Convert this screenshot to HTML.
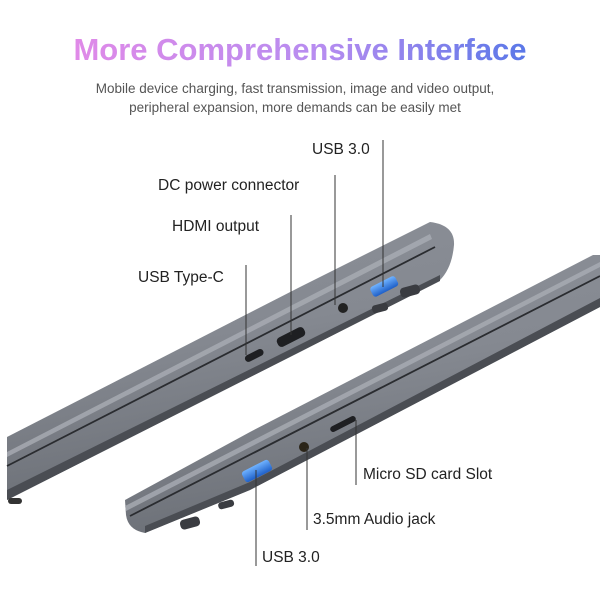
<!DOCTYPE html>
<html><head><meta charset="utf-8"><style>
html,body{margin:0;padding:0;background:#fff;width:600px;height:600px;overflow:hidden}
svg{display:block}
text{font-family:"Liberation Sans","DejaVu Sans",sans-serif}
</style></head><body>
<svg width="600" height="600" viewBox="0 0 600 600" xmlns="http://www.w3.org/2000/svg">
<defs>
<linearGradient id="tg" x1="0" x2="1" y1="0" y2="0">
<stop offset="0" stop-color="#e08ae8"/><stop offset="0.55" stop-color="#b68cf0"/><stop offset="1" stop-color="#5a78e8"/>
</linearGradient>
<linearGradient id="body" x1="0" y1="0" x2="0.3" y2="1">
<stop offset="0" stop-color="#8d9199"/><stop offset="0.5" stop-color="#858991"/><stop offset="1" stop-color="#6a6e75"/>
</linearGradient>
<linearGradient id="usb" x1="0" y1="0" x2="0" y2="1"><stop offset="0" stop-color="#6fb2ff"/><stop offset="1" stop-color="#1e5fc8"/></linearGradient>
</defs>
<text x="300" y="60" text-anchor="middle" font-size="31" font-weight="bold" fill="url(#tg)">More Comprehensive Interface</text>
<text x="295" y="93" text-anchor="middle" font-size="13.5" fill="#555">Mobile device charging, fast transmission, image and video output,</text>
<text x="295" y="112" text-anchor="middle" font-size="13.5" fill="#555">peripheral expansion, more demands can be easily met</text>

<!-- upper laptop -->
<path d="M7,437 L300,287 L430,222 Q455,225 454,245 Q452,268 440,280 L300,352 L7,500 Z" fill="url(#body)"/>
<polygon points="7,452 430,234 432,239 7,457" fill="#a9adb4" opacity="0.8"/>
<line x1="7" y1="466" x2="435" y2="247" stroke="#2a2c30" stroke-width="1.8"/>
<polygon points="7,490 440,275 440,281 7,500" fill="#4a4d53"/>
<rect x="8" y="498" width="14" height="6" rx="3" fill="#333"/>
<rect x="400" y="286" width="20" height="10" rx="4" fill="#3a3c41" transform="rotate(-15 410 291)"/>
<rect x="372" y="304" width="16" height="8" rx="3" fill="#3a3c41" transform="rotate(-15 380 308)"/>
<!-- ports upper -->
<rect x="370" y="281" width="28" height="11" rx="3" fill="url(#usb)" transform="rotate(-27 384 286)"/>
<circle cx="343" cy="308" r="5" fill="#222"/>
<rect x="276" y="332" width="30" height="10" rx="4" fill="#1e1f22" transform="rotate(-27 291 337)"/>
<rect x="244" y="352" width="20" height="7" rx="3.5" fill="#1e1f22" transform="rotate(-27 254 355)"/>

<!-- lower laptop -->
<path d="M125,500 L250,432 L593,255 L600,255 L600,307 L250,490 L145,533 Q128,530 126,515 Z" fill="url(#body)"/>
<polygon points="125,506 600,262 600,267 126,511" fill="#a9adb4" opacity="0.8"/>
<line x1="130" y1="516" x2="600" y2="276" stroke="#2a2c30" stroke-width="1.8"/>
<polygon points="145,526 250,482 600,298 600,307 250,490 145,533" fill="#4a4d53"/>
<rect x="180" y="518" width="20" height="10" rx="4" fill="#3a3c41" transform="rotate(-15 190 523)"/>
<rect x="218" y="501" width="16" height="7" rx="3" fill="#3a3c41" transform="rotate(-15 226 504)"/>
<!-- ports lower -->
<rect x="242" y="465" width="30" height="12" rx="3" fill="url(#usb)" transform="rotate(-27 257 471)"/>
<circle cx="304" cy="447" r="5" fill="#2a2418"/>
<rect x="329" y="421" width="28" height="6" rx="3" fill="#1e1f22" transform="rotate(-27 343 424)"/>

<!-- labels -->
<g font-size="15.5" fill="#222">
<text x="312" y="154">USB 3.0</text>
<text x="158" y="190">DC power connector</text>
<text x="172" y="231">HDMI output</text>
<text x="138" y="282">USB Type-C</text>
<text x="363" y="479">Micro SD card Slot</text>
<text x="313" y="524">3.5mm Audio jack</text>
<text x="262" y="562">USB 3.0</text>
</g>
<g stroke="#333" stroke-width="1">
<line x1="383" y1="140" x2="383" y2="287"/>
<line x1="335" y1="175" x2="335" y2="305"/>
<line x1="291" y1="215" x2="291" y2="335"/>
<line x1="246" y1="265" x2="246" y2="355"/>
<line x1="356" y1="420" x2="356" y2="485"/>
<line x1="307" y1="448" x2="307" y2="530"/>
<line x1="256" y1="470" x2="256" y2="566"/>
</g>
</svg>
</body></html>
